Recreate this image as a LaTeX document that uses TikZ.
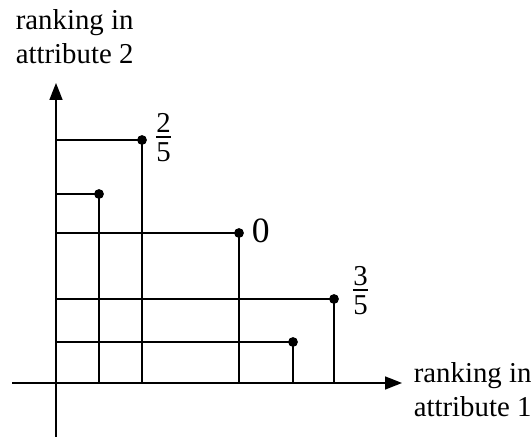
\documentclass[tikz,border=0pt]{standalone}
\usepackage{amsmath}
\usepackage{fontspec}
\setmainfont{Liberation Serif}
\usetikzlibrary{arrows.meta}

\newcommand{\numfrac}[2]{$\frac{\mbox{#1}}{\mbox{\rule{0pt}{11.6pt}#2}}$}

\begin{document}
\begin{tikzpicture}[x=0.5pt, y=-0.5pt, line width=0.85pt,
  axis/.style={-{Triangle[length=8.5pt,width=6.5pt]}},
  dot/.style={circle, fill, inner sep=0pt, minimum size=4.9pt},
  lab/.style={inner sep=0pt, font=\fontsize{14.4}{17}\selectfont}]
\useasboundingbox (0,0) rectangle (531,437);

% axes
\coordinate (O) at (56,383);
\coordinate (xs) at (12,383);
\coordinate (xe) at (402,383);
\coordinate (ys) at (56,437);
\coordinate (ye) at (56,83);
\draw[axis] (xs) -- (xe);
\draw[axis] (ys) -- (ye);

% the five points, each joined to both axes
\foreach \i/\x/\y in {1/142/140, 2/99/194, 3/239/233, 4/334/299, 5/293/342}{
  \node[dot] (p\i) at (\x,\y) {};
  \draw (p\i.center) -- (p\i.center -| O);
  \draw (p\i.center) -- (p\i.center |- O);
}

% values next to the points
\node[lab, anchor=west] (v1) at (153,138) {\numfrac{2}{5}};
\node[lab, anchor=west, font=\fontsize{17.8}{20}\selectfont] (v3) at (251,231) {0};
\node[lab, anchor=west] (v4) at (350,291) {\numfrac{3}{5}};

% axis names
\node[lab, anchor=north west, align=left] (ylab) at (15,9) {ranking in\\attribute 2};
\node[lab, anchor=north west, align=left] (xlab) at (413,362) {ranking in\\attribute 1};

\end{tikzpicture}
\end{document}
